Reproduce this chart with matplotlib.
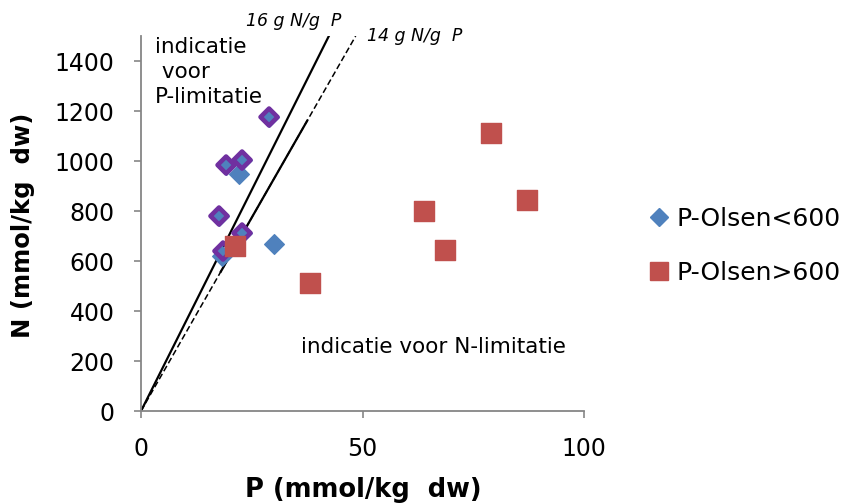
import numpy as np
import matplotlib
matplotlib.use("Agg")
import matplotlib.pyplot as plt
from matplotlib.lines import Line2D

# P-Olsen < 600 (blue diamonds)
p_low = [28.9, 22.8, 19.2, 22.1, 17.6, 22.8, 18.3, 30.0]
n_low = [1176, 1004, 984, 948, 780, 712, 622, 668]

# highlighted points (purple outlines)
p_hl = [28.9, 22.8, 19.2, 17.6, 22.8, 18.5]
n_hl = [1176, 1004, 984, 780, 712, 640]

# P-Olsen > 600 (red squares)
p_high = [21.2, 38.1, 63.9, 68.6, 79.0, 87.1]
n_high = [660, 512, 800, 646, 1112, 844]

# N:P ratio lines (g N / g P) -> mmol N per mmol P
M_P, M_N = 30.97, 14.007
ratio16 = 16 * M_P / M_N
ratio14 = 14 * M_P / M_N
y_top = 1500
seg14 = [18.0, 37.5]   # extra solid piece drawn over the 14-line

BLUE = "#4F81BD"
RED = "#C0504D"
PURPLE = "#7030A0"
GRAY = "#868686"

fig = plt.figure(figsize=(8.47, 5.04), dpi=100)
ax = fig.add_axes([0.1665, 0.1845, 0.523, 0.744])

# ratio lines
ax.plot([0, y_top / ratio16], [0, y_top], color="black", lw=1.6, zorder=2)
ax.plot([0, y_top / ratio14], [0, y_top], color="black", lw=1.1, ls=(0, (4, 2)), zorder=2)
ax.plot(seg14, [seg14[0] * ratio14, seg14[1] * ratio14], color="black", lw=1.6, zorder=2)

ax.scatter(p_low, n_low, marker="D", s=100, color=BLUE, zorder=3)
ax.scatter(p_hl, n_hl, marker="D", s=75, facecolors="none", edgecolors=PURPLE,
           linewidths=3.3, zorder=4)
ax.scatter(p_high, n_high, marker="s", s=200, color=RED, zorder=5)

ax.set_xlim(0, 100)
ax.set_ylim(0, 1500)
ax.set_xticks([0, 50, 100])
ax.set_yticks(np.arange(0, 1401, 200))
ax.tick_params(axis="both", labelsize=17, color=GRAY, length=5, width=1.2,
               direction="out")
ax.tick_params(axis="x", pad=14)
ax.tick_params(axis="y", pad=14)
for s in ["top", "right"]:
    ax.spines[s].set_visible(False)
for s in ["left", "bottom"]:
    ax.spines[s].set_color(GRAY)
    ax.spines[s].set_linewidth(1.3)

fig.text(363 / 847, 1 - 490 / 504, "P (mmol/kg  dw)", fontsize=18.5, fontweight="bold",
         ha="center", va="center")
fig.text(23 / 847, 1 - 225 / 504, "N (mmol/kg  dw)", fontsize=17.5, fontweight="bold",
         ha="center", va="center", rotation=90)

# annotations
ax.text(3.2, 1495, "indicatie\n voor\nP-limitatie", fontsize=15.5, va="top", ha="left",
        linespacing=1.3)
ax.text(36.1, 256, "indicatie voor N-limitatie", fontsize=15.5, va="center", ha="left")
fig.text(246 / 847, 1 - 21 / 504, "16 g N/g  P", fontsize=12.5, style="italic",
         va="center", ha="left")
fig.text(367 / 847, 1 - 36 / 504, "14 g N/g  P", fontsize=12.5, style="italic",
         va="center", ha="left")

handles = [
    Line2D([], [], marker="D", color=BLUE, ls="none", markersize=9),
    Line2D([], [], marker="s", color=RED, ls="none", markersize=13),
]
fig.legend(handles, ["P-Olsen<600", "P-Olsen>600"], loc="upper left",
           bbox_to_anchor=(646 / 847, 1 - 207 / 504), frameon=False, fontsize=18,
           handletextpad=0.2, labelspacing=1.2, handlelength=1.0, borderpad=0,
           borderaxespad=0)

fig.savefig("out.png", dpi=100)
